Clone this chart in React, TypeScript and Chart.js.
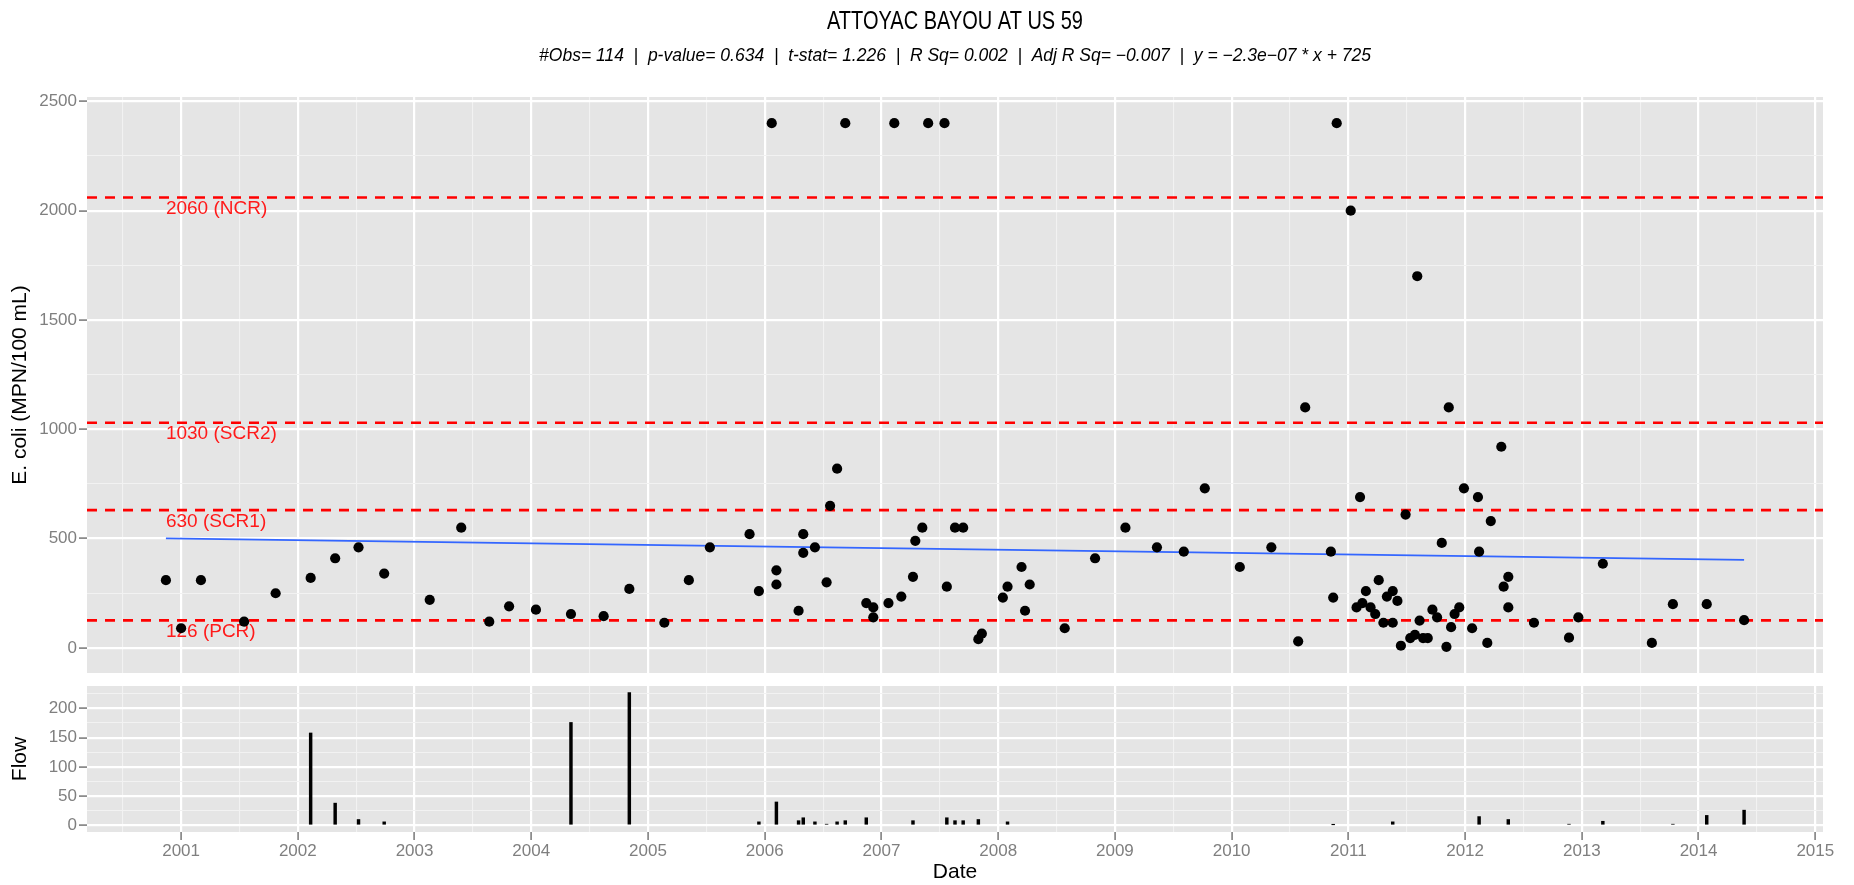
import React, { useEffect, useRef } from "react";
import { Chart, registerables } from "chart.js";

Chart.register(...registerables);

// ---------------- DATA ----------------
const chartTitle = "ATTOYAC BAYOU AT US 59";
const statsLine =
  "#Obs= 114  |  p-value= 0.634  |  t-stat= 1.226  |  R Sq= 0.002  |  Adj R Sq= \u22120.007  |  y = \u22122.3e\u221207 * x + 725";

// sample dates as decimal years
const sampleYear: number[] = [
  2000.87, 2001.0, 2001.17, 2001.54, 2001.81, 2002.11, 2002.32, 2002.52, 2002.74, 2003.13,
  2003.4, 2003.64, 2003.81, 2004.04, 2004.34, 2004.62, 2004.84, 2005.14, 2005.35, 2005.53,
  2005.87, 2005.95, 2006.06, 2006.1, 2006.1, 2006.29, 2006.33, 2006.33, 2006.43, 2006.53,
  2006.56, 2006.62, 2006.69, 2006.87, 2006.93, 2006.93, 2007.06, 2007.11, 2007.17, 2007.27,
  2007.29, 2007.35, 2007.4, 2007.54, 2007.56, 2007.63, 2007.7, 2007.83, 2007.86, 2008.04,
  2008.08, 2008.2, 2008.23, 2008.27, 2008.57, 2008.83, 2009.09, 2009.36, 2009.59, 2009.77,
  2010.07, 2010.34, 2010.57, 2010.63, 2010.85, 2010.87, 2010.9, 2011.02, 2011.07, 2011.1,
  2011.12, 2011.15, 2011.19, 2011.23, 2011.26, 2011.3, 2011.33, 2011.38, 2011.38, 2011.42,
  2011.45, 2011.49, 2011.53, 2011.57, 2011.59, 2011.61, 2011.64, 2011.68, 2011.72, 2011.76,
  2011.8, 2011.84, 2011.86, 2011.88, 2011.91, 2011.95, 2011.99, 2012.06, 2012.11, 2012.12,
  2012.19, 2012.22, 2012.31, 2012.33, 2012.37, 2012.37, 2012.59, 2012.89, 2012.97, 2013.18,
  2013.6, 2013.78, 2014.07, 2014.39,
];

// E. coli (MPN/100 mL)
const ecoli: number[] = [
  310, 90, 310, 120, 250, 320, 410, 460, 340, 220,
  550, 120, 190, 175, 155, 145, 270, 115, 310, 460,
  520, 260, 2400, 355, 290, 170, 520, 435, 460, 300,
  650, 820, 2400, 205, 185, 140, 205, 2400, 235, 325,
  490, 550, 2400, 2400, 280, 550, 550, 40, 65, 230,
  280, 370, 170, 290, 90, 410, 550, 460, 440, 730,
  370, 460, 30, 1100, 440, 230, 2400, 2000, 185, 690,
  205, 260, 185, 155, 310, 115, 235, 260, 115, 215,
  10, 610, 45, 60, 1700, 125, 45, 45, 175, 140,
  480, 5, 1100, 95, 155, 185, 730, 90, 690, 440,
  23, 580, 920, 280, 325, 185, 115, 47, 140, 385,
  23, 200, 200, 127,
];

// Flow, null where no flow was measured with the sample
const flow: (number | null)[] = [
  null, null, null, null, null, 158, 38, 10, 6, null,
  null, null, null, null, 176, null, 227, null, null, null,
  null, 6, null, 40, null, 8, 13, null, 6, 2,
  null, 6, 8, 13, null, null, null, null, null, 8,
  null, null, null, null, 13, 8, 8, 10, null, null,
  6, null, null, null, null, null, null, null, null, null,
  null, null, null, null, null, 1, null, null, null, null,
  null, null, null, null, null, null, null, null, 6, null,
  null, null, null, null, null, null, null, null, null, null,
  null, null, null, null, null, null, null, null, null, 15,
  null, null, null, null, 10, null, null, 2, null, 7,
  null, 2, 17, 26,
];

const criteriaValues = [126, 630, 1030, 2060];
const criteriaLabels = ["126 (PCR)", "630 (SCR1)", "1030 (SCR2)", "2060 (NCR)"];

// fitted trend read at first and last sample dates
const trendValues = [501, 403];

const yearTicks = [2001, 2002, 2003, 2004, 2005, 2006, 2007, 2008, 2009, 2010, 2011, 2012, 2013, 2014, 2015];
const ecoliTicks = [0, 500, 1000, 1500, 2000, 2500];
const flowTicks = [0, 50, 100, 150, 200];

// ---------------- LAYOUT / STYLE ----------------
const FONT = '"Liberation Sans", Arial, Helvetica, sans-serif';
const W = 1854;
const TOP_H = 680;
const BOT_H = 205;
const PANEL_LEFT = 87;
const RIGHT_PAD = 31;
const PANEL_BG = "#e5e5e5";
const TICK_GREY = "#7f7f7f";

const expand = (lo: number, hi: number): [number, number] => {
  const d = (hi - lo) * 0.05;
  return [lo - d, hi + d];
};

const xLim = expand(Math.min(...sampleYear), Math.max(...sampleYear));
const ecoliLim = expand(
  Math.min(...ecoli, ...criteriaValues),
  Math.max(...ecoli, ...criteriaValues)
);
const flowNums = flow.filter((v): v is number => v !== null);
const flowLim = expand(0, Math.max(...flowNums));

const withMinor = (majors: number[], lo: number, hi: number) => {
  const half = (majors[1] - majors[0]) / 2;
  const out: number[] = [];
  for (let v = majors[0] - half; v <= majors[majors.length - 1] + half + 1e-9; v += half) {
    if (v >= lo - 1e-9 && v <= hi + 1e-9) out.push(Math.round(v * 1000) / 1000);
  }
  return out;
};

const isIn = (majors: number[], v: number) => majors.some((m) => Math.abs(m - v) < 1e-6);

const gridFor = (majors: number[], drawTicks: boolean) => ({
  color: (c: any) => (c.tick && isIn(majors, c.tick.value) ? "#ffffff" : "#f2f2f2"),
  lineWidth: (c: any) => (c.tick && isIn(majors, c.tick.value) ? 2.2 : 1.1),
  drawTicks,
  tickLength: 8,
  tickColor: (c: any) => (c.tick && isIn(majors, c.tick.value) ? TICK_GREY : "rgba(0,0,0,0)"),
  tickWidth: 1.6,
  offset: false,
});

const panelBg = {
  id: "panelBg",
  beforeDraw(chart: any) {
    const { ctx, chartArea } = chart;
    ctx.save();
    ctx.fillStyle = PANEL_BG;
    ctx.fillRect(chartArea.left, chartArea.top, chartArea.right - chartArea.left, chartArea.bottom - chartArea.top);
    ctx.restore();
  },
};

// condensed main title centred over the panel
const condensedTitle = {
  id: "condensedTitle",
  afterDraw(chart: any) {
    const { ctx, chartArea } = chart;
    ctx.save();
    ctx.translate((chartArea.left + chartArea.right) / 2, 22);
    ctx.scale(0.8, 1);
    ctx.font = `25px ${FONT}`;
    ctx.fillStyle = "#000000";
    ctx.textAlign = "center";
    ctx.textBaseline = "middle";
    ctx.fillText(chartTitle, 0, 0);
    ctx.restore();
  },
};

const criteriaText = {
  id: "criteriaText",
  beforeDatasetsDraw(chart: any) {
    const { ctx, scales } = chart;
    ctx.save();
    ctx.font = `19px ${FONT}`;
    ctx.fillStyle = "#ff1a1a";
    ctx.textAlign = "left";
    ctx.textBaseline = "middle";
    const x = scales.x.getPixelForValue(sampleYear[0]);
    criteriaValues.forEach((v, i) => {
      ctx.fillText(criteriaLabels[i], x, scales.y.getPixelForValue(v) + 11.5);
    });
    ctx.restore();
  },
};

function topConfig(): any {
  const xGrid = withMinor(yearTicks, xLim[0], xLim[1]);
  const yGrid = withMinor(ecoliTicks, ecoliLim[0], ecoliLim[1]);
  const points = sampleYear.map((x, i) => ({ x, y: ecoli[i] }));
  const lastIdx = sampleYear.length - 1;
  const datasets: any[] = [
    {
      type: "scatter",
      data: points,
      pointRadius: 5.1,
      pointBackgroundColor: "#000000",
      pointBorderWidth: 0,
      order: 0,
    },
    {
      type: "line",
      data: [
        { x: sampleYear[0], y: trendValues[0] },
        { x: sampleYear[lastIdx], y: trendValues[1] },
      ],
      borderColor: "#3366ff",
      borderWidth: 1.8,
      pointRadius: 0,
      order: 1,
    },
    ...criteriaValues.map((v) => ({
      type: "line",
      data: [
        { x: xLim[0], y: v },
        { x: xLim[1], y: v },
      ],
      borderColor: "#ff0000",
      borderWidth: 2.6,
      borderDash: [10, 8],
      pointRadius: 0,
      order: 2,
    })),
  ];
  return {
    type: "scatter",
    data: { datasets },
    plugins: [panelBg, criteriaText, condensedTitle],
    options: {
      animation: false,
      responsive: false,
      events: [],
      layout: { padding: { left: 0, right: RIGHT_PAD, top: 0, bottom: TOP_H - 673 } },
      plugins: {
        legend: { display: false },
        tooltip: { enabled: false },
        title: { display: false },
        subtitle: {
          display: true,
          text: statsLine,
          fullSize: false,
          color: "#000000",
          font: { family: FONT, size: 17.5, style: "italic", weight: "normal" },
          padding: { top: 45.5, bottom: 30.5 },
        },
      },
      scales: {
        x: {
          type: "linear",
          min: xLim[0],
          max: xLim[1],
          afterBuildTicks: (s: any) => {
            s.ticks = xGrid.map((v) => ({ value: v }));
          },
          afterFit: (s: any) => {
            s.height = 0;
            s.paddingLeft = 0;
            s.paddingRight = 0;
          },
          ticks: { display: false },
          grid: gridFor(yearTicks, false),
          border: { display: false },
        },
        y: {
          type: "linear",
          min: ecoliLim[0],
          max: ecoliLim[1],
          afterBuildTicks: (s: any) => {
            s.ticks = yGrid.map((v) => ({ value: v }));
          },
          afterFit: (s: any) => {
            s.width = PANEL_LEFT;
            s.paddingTop = 0;
            s.paddingBottom = 0;
          },
          ticks: {
            autoSkip: false,
            padding: 2,
            color: TICK_GREY,
            font: { family: FONT, size: 17 },
            callback: (v: any) => (isIn(ecoliTicks, Number(v)) ? String(v) : ""),
          },
          grid: gridFor(ecoliTicks, true),
          border: { display: false },
          title: {
            display: true,
            text: "E. coli (MPN/100 mL)",
            color: "#000000",
            font: { family: FONT, size: 21 },
            padding: { top: 8, bottom: 0 },
          },
        },
      },
    },
  };
}

function bottomConfig(): any {
  const xGrid = withMinor(yearTicks, xLim[0], xLim[1]);
  const yGrid = withMinor(flowTicks, flowLim[0], flowLim[1]);
  const bars = sampleYear
    .map((x, i) => ({ x, y: flow[i] }))
    .filter((p) => p.y !== null);
  return {
    type: "bar",
    data: {
      datasets: [
        {
          data: bars,
          backgroundColor: "#000000",
          borderWidth: 0,
          barThickness: 2.8,
        },
      ],
    },
    plugins: [panelBg],
    options: {
      animation: false,
      responsive: false,
      events: [],
      layout: { padding: { left: 0, right: RIGHT_PAD, top: 6, bottom: 0 } },
      plugins: {
        legend: { display: false },
        tooltip: { enabled: false },
      },
      scales: {
        x: {
          type: "linear",
          min: xLim[0],
          max: xLim[1],
          offset: false,
          afterBuildTicks: (s: any) => {
            s.ticks = xGrid.map((v) => ({ value: v }));
          },
          afterFit: (s: any) => {
            s.height = 53;
            s.paddingLeft = 0;
            s.paddingRight = 0;
          },
          ticks: {
            autoSkip: false,
            maxRotation: 0,
            minRotation: 0,
            padding: 1,
            color: TICK_GREY,
            font: { family: FONT, size: 17 },
            callback: (v: any) => (isIn(yearTicks, Number(v)) ? String(v) : ""),
          },
          grid: gridFor(yearTicks, true),
          border: { display: false },
          title: {
            display: true,
            text: "Date",
            color: "#000000",
            font: { family: FONT, size: 21 },
            padding: { top: 0, bottom: 0 },
          },
        },
        y: {
          type: "linear",
          min: flowLim[0],
          max: flowLim[1],
          afterBuildTicks: (s: any) => {
            s.ticks = yGrid.map((v) => ({ value: v }));
          },
          afterFit: (s: any) => {
            s.width = PANEL_LEFT;
            s.paddingTop = 0;
            s.paddingBottom = 0;
          },
          ticks: {
            autoSkip: false,
            padding: 2,
            color: TICK_GREY,
            font: { family: FONT, size: 17 },
            callback: (v: any) => (isIn(flowTicks, Number(v)) ? String(v) : ""),
          },
          grid: gridFor(flowTicks, true),
          border: { display: false },
          title: {
            display: true,
            text: "Flow",
            color: "#000000",
            font: { family: FONT, size: 21 },
            padding: { top: 8, bottom: 0 },
          },
        },
      },
    },
  };
}

export default function App() {
  const topRef = useRef<HTMLCanvasElement | null>(null);
  const botRef = useRef<HTMLCanvasElement | null>(null);

  useEffect(() => {
    if (!topRef.current || !botRef.current) return;
    const c1 = new Chart(topRef.current, topConfig());
    const c2 = new Chart(botRef.current, bottomConfig());
    return () => {
      c1.destroy();
      c2.destroy();
    };
  }, []);

  return (
    <div
      style={{
        position: "absolute",
        left: 0,
        top: 0,
        width: W,
        height: TOP_H + BOT_H,
        background: "#ffffff",
        overflow: "hidden",
      }}
    >
      <canvas
        ref={topRef}
        width={W}
        height={TOP_H}
        style={{ position: "absolute", left: 0, top: 0, width: W, height: TOP_H, display: "block" }}
      />
      <canvas
        ref={botRef}
        width={W}
        height={BOT_H}
        style={{ position: "absolute", left: 0, top: TOP_H, width: W, height: BOT_H, display: "block" }}
      />
    </div>
  );
}
